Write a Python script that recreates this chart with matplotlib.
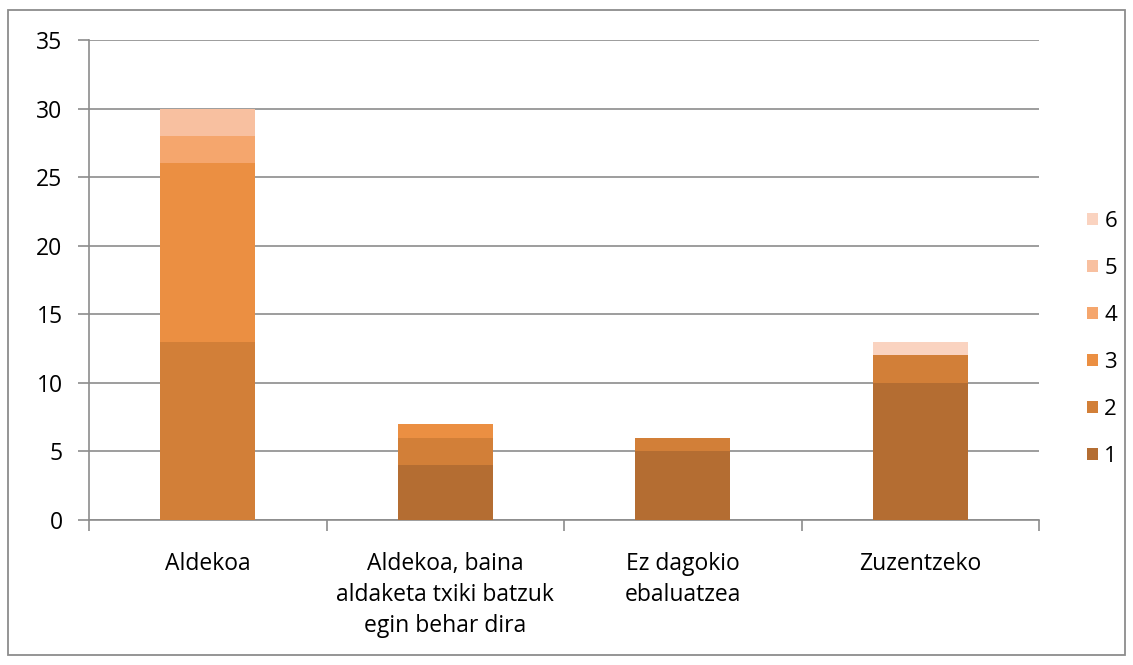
import matplotlib.pyplot as plt
import matplotlib.patches as patches
import numpy as np

categories = ['Aldekoa', 'Aldekoa, baina\naldaketa txiki batzuk\negin behar dira',
              'Ez dagokio\nebaluatzea', 'Zuzentzeko']
series_names = ['1', '2', '3', '4', '5', '6']
s1 = [0, 4, 5, 10]
s2 = [13, 2, 1, 2]
s3 = [13, 1, 0, 0]
s4 = [2, 0, 0, 0]
s5 = [2, 0, 0, 0]
s6 = [0, 0, 0, 1]
series = [s1, s2, s3, s4, s5, s6]
colors = ['#B46D32', '#D27F38', '#EB8F42', '#F5A66D', '#F8C0A0', '#FAD3C0']

plt.rcParams['font.family'] = ['Open Sans', 'DejaVu Sans']

fig = plt.figure(figsize=(11.33, 6.65), dpi=100)
ax = fig.add_axes([89 / 1133, 1 - 520 / 665, 950 / 1133, 480 / 665])

# 外枠
fig.patches.append(patches.Rectangle((8 / 1133, 10 / 665), 1117 / 1133, 645 / 665,
                                     transform=fig.transFigure, fill=False,
                                     edgecolor='#8c8c8c', linewidth=1.3))

x = np.arange(len(categories))
bottom = np.zeros(len(categories))
handles = []
for k in range(len(series)):
    vals = np.array(series[k], dtype=float)
    b = ax.bar(x, vals, width=0.4, bottom=bottom, color=colors[k], label=series_names[k], zorder=3)
    handles.append(b)
    bottom += vals

ax.set_xlim(-0.5, len(categories) - 0.5)
ax.set_ylim(0, 35)
ax.set_yticks(np.arange(0, 36, 5))
ax.yaxis.grid(True, color='#8c8c8c', linewidth=1.2, zorder=0)
ax.set_axisbelow(True)

for side in ['top', 'right']:
    ax.spines[side].set_visible(False)
for side in ['left', 'bottom']:
    ax.spines[side].set_color('#8c8c8c')
    ax.spines[side].set_linewidth(1.2)

ax.set_xticks(x)
ax.set_xticklabels(categories, fontsize=16.5, linespacing=1.38, va='top')
ax.tick_params(axis='x', length=0, pad=23)
ax.set_xticks(np.arange(-0.5, len(categories), 1), minor=True)
ax.tick_params(axis='x', which='minor', length=8, width=1.2, color='#8c8c8c', direction='out')
ax.tick_params(axis='y', length=8, width=1.2, color='#8c8c8c', labelsize=16.5, pad=11)

leg = ax.legend(handles[::-1], series_names[::-1], loc='center left',
                bbox_to_anchor=(1.05, 0.377), frameon=False, fontsize=16,
                handlelength=0.5, handleheight=0.5, handletextpad=0.3,
                labelspacing=1.17, borderpad=0, borderaxespad=0)

fig.savefig('out.png', dpi=100)
